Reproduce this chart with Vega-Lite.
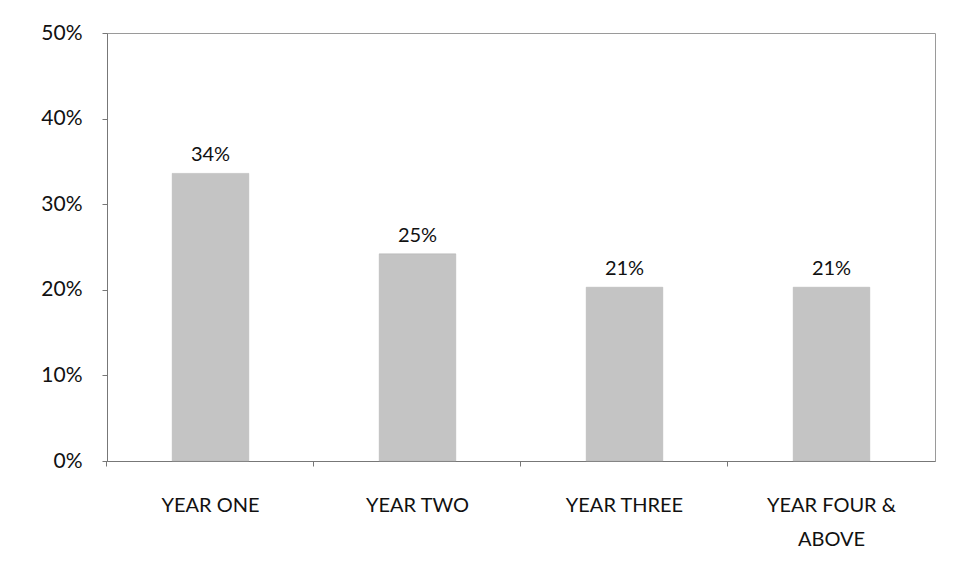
{
  "$schema": "https://vega.github.io/schema/vega-lite/v6.json",
  "width": 828,
  "height": 428,
  "autosize": "none",
  "padding": {"left": 107, "top": 33, "right": 20, "bottom": 118},
  "background": "white",
  "config": {
    "font": "Lato",
    "view": {"stroke": "#9a9a9a", "strokeWidth": 1}
  },
  "data": {
    "values": [
      {"year": "YEAR ONE", "share": 0.336, "label": "34%"},
      {"year": "YEAR TWO", "share": 0.242, "label": "25%"},
      {"year": "YEAR THREE", "share": 0.203, "label": "21%"},
      {"year": "YEAR FOUR & ABOVE", "share": 0.203, "label": "21%"}
    ]
  },
  "encoding": {
    "x": {
      "field": "year",
      "type": "nominal",
      "sort": null,
      "scale": {"paddingInner": 0.63, "paddingOuter": 0.315},
      "axis": {
        "title": null,
        "labelAngle": 0,
        "labelFontSize": 20,
        "labelColor": "#111",
        "labelPadding": 29,
        "labelLineHeight": 34,
        "labelExpr": "datum.value == 'YEAR FOUR & ABOVE' ? ['YEAR FOUR &', 'ABOVE'] : datum.value",
        "bandPosition": -0.855,
        "tickColor": "#777",
        "tickSize": 5,
        "domainColor": "#777"
      }
    },
    "y": {
      "field": "share",
      "type": "quantitative",
      "scale": {"domain": [0, 0.5], "nice": false},
      "axis": {
        "title": null,
        "format": ".0%",
        "values": [0, 0.1, 0.2, 0.3, 0.4, 0.5],
        "grid": false,
        "labelFontSize": 21,
        "labelColor": "#111",
        "labelPadding": 20,
        "tickColor": "#777",
        "tickSize": 5,
        "domainColor": "#777"
      }
    }
  },
  "layer": [
    {"mark": {"type": "bar", "color": "#c4c4c4", "stroke": "#b0b0b0", "strokeWidth": 0.5}},
    {
      "mark": {"type": "text", "dy": -18, "fontSize": 20, "color": "#111", "baseline": "middle"},
      "encoding": {"text": {"field": "label"}}
    }
  ]
}
